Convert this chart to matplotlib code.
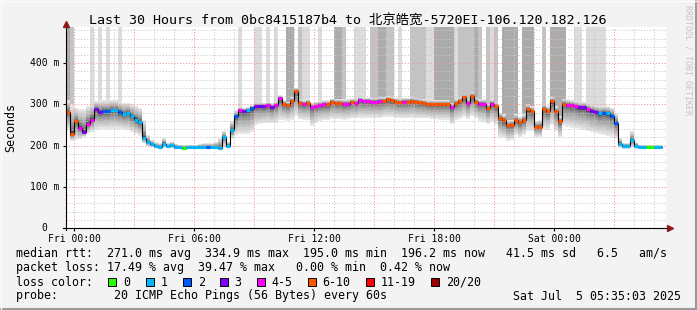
import numpy as np
import matplotlib
matplotlib.use('Agg')
import matplotlib.pyplot as plt
from matplotlib.patches import Rectangle
from matplotlib.lines import Line2D

# --- data (12 minute steps, 0 = Thu 23:36) ---
median = [282, 228, 259, 243, 233, 253, 263, 288, 281, 283,
          283, 286, 286, 281, 276, 279, 271, 263, 257, 219,
          208, 203, 199, 197, 205, 199, 201, 197, 196, 195,
          196, 196, 196, 196, 196, 196, 196, 196, 195, 221,
          200, 239, 272, 286, 283, 286, 291, 297, 297, 296,
          298, 293, 299, 315, 302, 299, 309, 333, 304, 302,
          304, 293, 297, 299, 300, 300, 307, 304, 304, 302,
          302, 306, 304, 311, 308, 309, 307, 307, 309, 309,
          312, 310, 307, 305, 307, 307, 309, 307, 305, 304,
          301, 301, 301, 301, 301, 301, 293, 304, 309, 317,
          304, 320, 307, 302, 302, 291, 302, 296, 268, 262,
          250, 251, 263, 257, 263, 288, 284, 246, 246, 290,
          284, 308, 284, 259, 302, 299, 298, 295, 293, 293,
          288, 285, 282, 278, 280, 278, 273, 255, 205, 200,
          200, 213, 200, 196, 196, 196, 196, 196, 196]

lost = [7, 7, 7, 4, 3, 4, 4, 3, 3, 2,
        2, 1, 1, 2, 1, 1, 1, 1, 1, 1,
        1, 1, 1, 1, 1, 1, 1, 1, 1, 0,
        1, 1, 1, 1, 1, 2, 1, 1, 1, 1,
        1, 1, 2, 4, 3, 1, 2, 3, 3, 3,
        4, 3, 4, 4, 7, 7, 7, 7, 7, 4,
        7, 4, 4, 4, 4, 7, 7, 7, 7, 4,
        4, 7, 4, 4, 4, 4, 4, 4, 4, 7,
        7, 7, 7, 7, 4, 7, 7, 7, 7, 7,
        7, 7, 7, 7, 7, 7, 4, 7, 7, 7,
        4, 7, 7, 4, 4, 7, 4, 7, 7, 7,
        7, 7, 7, 7, 7, 7, 7, 7, 7, 7,
        7, 7, 7, 7, 7, 4, 4, 4, 3, 3,
        4, 3, 3, 1, 2, 1, 2, 2, 1, 1,
        1, 1, 1, 1, 1, 0, 0, 1, 1]

smoke_lo = [238, 212, 214, 216, 222, 230, 234, 238, 240, 240,
            240, 240, 240, 240, 240, 238, 234, 228, 224, 206,
            198, 196, 194, 193, 195, 194, 194, 193, 193, 192,
            192, 192, 192, 192, 192, 192, 192, 192, 192, 196,
            195, 215, 226, 228, 228, 228, 232, 250, 252, 254,
            256, 254, 256, 262, 262, 260, 262, 272, 264, 262,
            262, 248, 256, 260, 262, 262, 264, 264, 264, 262,
            264, 266, 266, 268, 268, 268, 268, 268, 266, 270,
            270, 270, 268, 268, 266, 266, 268, 266, 266, 266,
            266, 264, 264, 262, 262, 262, 252, 262, 264, 270,
            264, 272, 266, 260, 258, 252, 258, 250, 222, 218,
            212, 214, 226, 220, 226, 236, 236, 222, 222, 240,
            238, 250, 236, 220, 248, 246, 244, 242, 240, 238,
            236, 232, 230, 228, 226, 224, 222, 215, 195, 193,
            193, 196, 193, 192, 192, 192, 192, 192, 192]

smoke_hi = [310, 300, 292, 288, 290, 296, 302, 308, 310, 310,
            310, 310, 310, 306, 304, 304, 300, 296, 292, 262,
            226, 214, 208, 206, 218, 206, 210, 204, 202, 202,
            202, 202, 202, 204, 206, 206, 206, 210, 218, 236,
            210, 260, 286, 294, 292, 294, 298, 304, 304, 304,
            306, 304, 306, 322, 310, 306, 318, 340, 312, 310,
            312, 304, 306, 308, 310, 310, 314, 312, 312, 312,
            312, 314, 314, 318, 316, 316, 316, 316, 318, 318,
            320, 318, 316, 314, 316, 316, 318, 316, 314, 312,
            310, 310, 310, 310, 310, 310, 304, 312, 318, 326,
            314, 330, 316, 312, 312, 302, 312, 306, 280, 276,
            262, 262, 276, 270, 276, 300, 296, 260, 262, 302,
            296, 318, 296, 272, 314, 312, 310, 308, 306, 306,
            302, 300, 298, 296, 296, 296, 292, 280, 218, 206,
            206, 236, 208, 202, 202, 202, 202, 202, 202]

# pings off the top of the graph (0 none .. 3 many)
spike = [3, 2, 0, 0, 0, 0, 1, 0, 1, 0,
         1, 0, 0, 1, 0, 0, 0, 0, 0, 0,
         0, 0, 0, 0, 0, 0, 0, 0, 0, 0,
         0, 0, 0, 0, 0, 0, 0, 0, 0, 0,
         0, 0, 0, 1, 0, 0, 0, 1, 1, 0,
         1, 0, 1, 0, 0, 3, 3, 0, 2, 1,
         1, 0, 0, 1, 0, 0, 0, 3, 3, 2,
         0, 0, 1, 1, 1, 0, 2, 2, 3, 3,
         2, 2, 0, 1, 0, 0, 2, 2, 2, 2,
         1, 1, 3, 3, 3, 3, 3, 1, 2, 2,
         2, 2, 3, 2, 0, 2, 1, 2, 0, 3,
         3, 3, 3, 0, 3, 3, 3, 0, 0, 2,
         0, 3, 3, 3, 3, 0, 0, 1, 1, 0,
         1, 1, 1, 1, 1, 0, 0, 0, 0, 0,
         0, 0, 0, 0, 0, 0, 0, 0, 0]

loss_labels = ['0', '1', '2', '3', '4-5', '6-10', '11-19', '20/20']
loss_colors = ['#26ff00', '#00b8ff', '#0059ff', '#7e00ff', '#ff00ff', '#ff5500', '#ff0000', '#a10000']
xtick_pos = [0.4, 6.4, 12.4, 18.4, 24.4]
xtick_labels = ['Fri 00:00', 'Fri 06:00', 'Fri 12:00', 'Fri 18:00', 'Sat 00:00']
ytick_pos = [0, 100, 200, 300, 400]
ytick_labels = ['0', '100 m', '200 m', '300 m', '400 m']

title = 'Last 30 Hours from 0bc8415187b4 to 北京皓宽-5720EI-106.120.182.126'
rows = ['median rtt:  271.0 ms avg  334.9 ms max  195.0 ms min  196.2 ms now   41.5 ms sd   6.5   am/s',
        'packet loss: 17.49 % avg  39.47 % max   0.00 % min  0.42 % now']
probe = 'probe:        20 ICMP Echo Pings (56 Bytes) every 60s'
stamp = 'Sat Jul  5 05:35:03 2025'

mono = ['DejaVu Sans Mono', 'Noto Sans CJK SC']
plt.rcParams['font.family'] = mono

W, H = 697, 310
YMAX = 488
STEP = 0.2


def fx(px):
    return px / W


def fy(py):
    return 1 - py / H


def bucket(n):
    if n <= 3:
        return n
    if n <= 5:
        return 4
    if n <= 10:
        return 5
    if n <= 19:
        return 6
    return 7


fig = plt.figure(figsize=(W / 100, H / 100), dpi=100)
fig.patch.set_facecolor('#f3f3f3')
ax = fig.add_axes([fx(66), fy(228), 600 / W, 201 / H])
ax.set_facecolor('white')
ax.set_xlim(0, 30)
ax.set_ylim(0, YMAX)
for s in ax.spines.values():
    s.set_visible(False)

med = np.array(median, dtype=float)
lo = np.array(smoke_lo, dtype=float)
hi = np.array(smoke_hi, dtype=float)
n = len(med)
t = np.arange(n) * STEP
edges = np.append(t, t[-1] + STEP)

# tall bars for pings above the graph
spike_cols = {1: '#dcdcdc', 2: '#c3c3c3', 3: '#ababab'}
for i, s in enumerate(spike):
    if s:
        ax.bar(t[i], YMAX - hi[i], bottom=hi[i], width=STEP, align='edge',
               color=spike_cols[s], linewidth=0, zorder=1)

# smoke, outer bands light, inner bands dark
nb = 10
for k in range(nb, 0, -1):
    f = k / nb
    g = 0.30 + 0.60 * ((k - 1) / (nb - 1)) ** 0.6
    bl = med - (med - lo) * f
    bh = med + (hi - med) * f
    ax.fill_between(edges, np.append(bl, bl[-1]), np.append(bh, bh[-1]),
                    step='post', color=str(round(g, 3)), linewidth=0, zorder=2)

# grid
dot = (0, (1.2, 1.8))
for k in range(30):
    h = 0.4 + k
    c = '#f09a9a' if k % 3 == 0 else '#c8c8c8'
    ax.axvline(h, color=c, lw=0.7, ls=dot, zorder=3)
for v in range(20, YMAX, 20):
    c = '#f09a9a' if v % 100 == 0 else '#c8c8c8'
    ax.axhline(v, color=c, lw=0.7, ls=dot, zorder=3)

# median
ax.step(edges, np.append(med, med[-1]), where='post', color='black', lw=0.8, zorder=4)
cols = [loss_colors[bucket(x)] for x in lost]
ax.hlines(med, t, t + STEP, colors=cols, lw=2.3, zorder=5)

# axes with arrows
ax.plot([-0.15, 30.1], [0, 0], color='black', lw=0.8, clip_on=False, zorder=6)
ax.plot([0, 0], [-6, YMAX + 2], color='black', lw=0.8, clip_on=False, zorder=6)
ax.plot(30.22, 0, marker='>', ms=4.5, color='#8b1a1a', clip_on=False, zorder=7)
ax.plot(0, YMAX + 8, marker='^', ms=4.5, color='#8b1a1a', clip_on=False, zorder=7)

ax.set_xticks(xtick_pos, xtick_labels)
ax.tick_params(axis='x', length=2, width=0.8, pad=2, labelsize=7)
ax.set_yticks(ytick_pos, [''] * len(ytick_pos))
ax.tick_params(axis='y', length=2, width=0.8)
for v, lab in zip(ytick_pos, ytick_labels):
    right = 47 if lab == '0' else 59
    fig.text(fx(right), fy(228 - v * 201 / YMAX), lab, ha='right', va='center',
             fontsize=7, color='black', zorder=10)

# text
fig.text(fx(348), fy(21), title, ha='center', va='center', fontsize=9.6, family=mono)
fig.text(fx(11), fy(128), 'Seconds', ha='center', va='center', rotation=90, fontsize=8.4)
fig.text(fx(688), fy(60), 'RRDTOOL / TOBI OETIKER', ha='center', va='center',
         rotation=270, fontsize=6, color='#c4c4c4')

fig.text(fx(16), fy(254), rows[0], ha='left', va='center', fontsize=8.4)
fig.text(fx(16), fy(268), rows[1], ha='left', va='center', fontsize=8.4)
fig.text(fx(16), fy(282), 'loss color:', ha='left', va='center', fontsize=8.4)
box_x = [108, 145.7, 182.7, 219.7, 256.7, 307.7, 366, 430.7]
for bx, lab, c in zip(box_x, loss_labels, loss_colors):
    fig.patches.append(Rectangle((fx(bx), fy(286)), 8 / W, 8 / H, transform=fig.transFigure,
                                 facecolor=c, edgecolor='black', lw=0.7))
    fig.text(fx(bx + 15), fy(282), lab, ha='left', va='center', fontsize=8.4)
fig.text(fx(16), fy(296), probe, ha='left', va='center', fontsize=8.4)
fig.text(fx(681), fy(296), stamp, ha='right', va='center', fontsize=8.4)

# frame
fig.add_artist(Line2D([0, 1], [fy(308.5), fy(308.5)], transform=fig.transFigure, color='#9a9a9a', lw=1.5))
fig.add_artist(Line2D([fx(695.5), fx(695.5)], [0, 1], transform=fig.transFigure, color='#9a9a9a', lw=1.5))
fig.add_artist(Line2D([0, 1], [fy(0.5), fy(0.5)], transform=fig.transFigure, color='#fcfcfc', lw=1))
fig.add_artist(Line2D([fx(0.5), fx(0.5)], [0, 1], transform=fig.transFigure, color='#fcfcfc', lw=1))

fig.savefig('out.png', dpi=100, facecolor=fig.get_facecolor())
